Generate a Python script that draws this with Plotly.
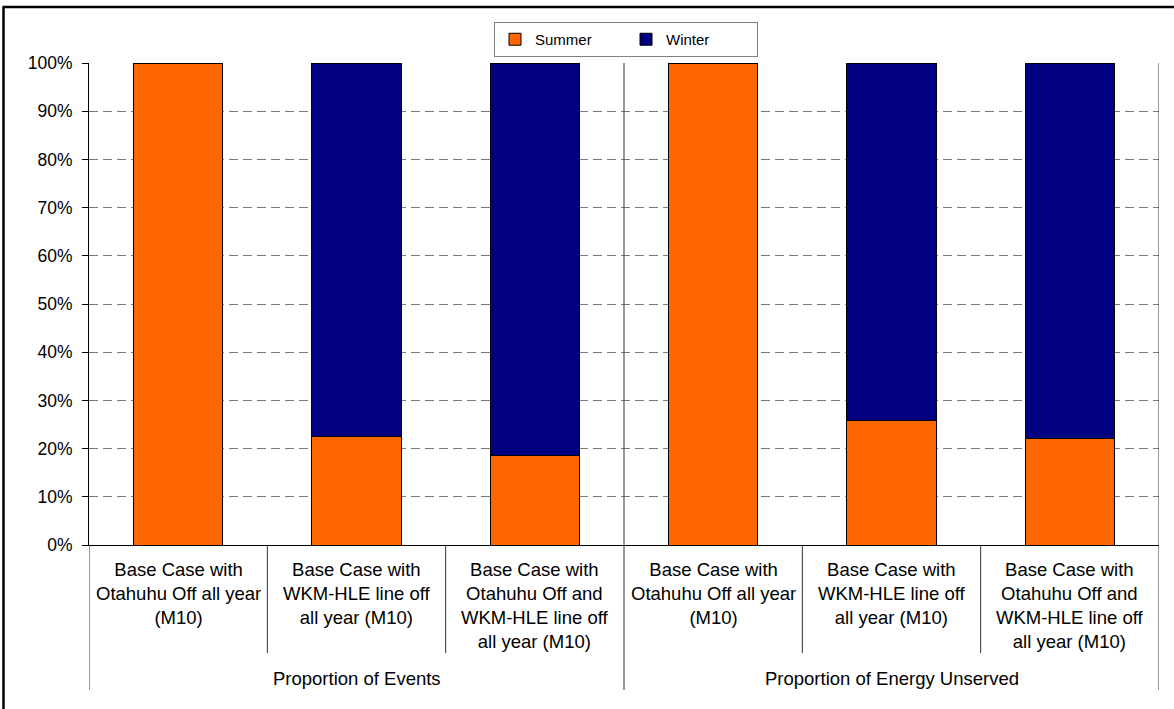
import plotly.graph_objects as go

# Scenario labels (one per bar) and the two groups they belong to
categories = [
    "Base Case with<br>Otahuhu Off all year<br>(M10)",
    "Base Case with<br>WKM-HLE line off<br>all year (M10)",
    "Base Case with<br>Otahuhu Off and<br>WKM-HLE line off<br>all year (M10)",
    "Base Case with<br>Otahuhu Off all year<br>(M10)",
    "Base Case with<br>WKM-HLE line off<br>all year (M10)",
    "Base Case with<br>Otahuhu Off and<br>WKM-HLE line off<br>all year (M10)",
]
groups = ["Proportion of Events", "Proportion of Energy Unserved"]
group_sizes = [3, 3]

# Seasonal shares (fractions of 100%)
summer = [1.00, 0.225, 0.185, 1.00, 0.258, 0.221]
winter = [0.00, 0.775, 0.815, 0.00, 0.742, 0.779]

FONT = "Liberation Sans, Arial, sans-serif"
ORANGE = "#FF6600"
NAVY = "#000080"

x = list(range(len(categories)))

fig = go.Figure()
fig.add_trace(go.Bar(
    x=x, y=summer, name="Summer",
    marker=dict(color=ORANGE, line=dict(color="black", width=1)),
))
fig.add_trace(go.Bar(
    x=x, y=winter, name="Winter",
    marker=dict(color=NAVY, line=dict(color="black", width=1)),
))

W, H = 1174, 709
ML, MR, MT, MB = 89, 15, 63, 164
plot_h = H - MT - MB


def py(px):
    """Convert a pixel row to paper y."""
    return (H - MB - px) / plot_h


def pxx(px):
    """Convert a pixel column to paper x."""
    return (px - ML) / (W - ML - MR)


shapes = []
# group boundaries (category index edges)
bounds = [-0.5]
for s in group_sizes:
    bounds.append(bounds[-1] + s)

# thin separators between categories below the axis
for i in range(1, len(categories)):
    edge = i - 0.5
    if edge in bounds:
        continue
    shapes.append(dict(type="line", xref="x", yref="paper",
                       x0=edge, x1=edge, y0=0, y1=py(653),
                       line=dict(color="#333333", width=1)))
# group separators: run through the plot area and down past the group labels
for b in bounds:
    top = 1 if b != -0.5 else 0
    shapes.append(dict(type="line", xref="x", yref="paper",
                       x0=b, x1=b, y0=py(690), y1=top,
                       line=dict(color="#333333", width=1)))
# chart-area frame (left and top edges)
shapes.append(dict(type="line", xref="paper", yref="paper",
                   x0=pxx(3.5), x1=pxx(3.5), y0=py(7), y1=py(720),
                   line=dict(color="black", width=2.5)))
shapes.append(dict(type="line", xref="paper", yref="paper",
                   x0=pxx(2.5), x1=pxx(1180), y0=py(7), y1=py(7),
                   line=dict(color="black", width=2.5)))

annotations = []
for i, lab in enumerate(categories):
    annotations.append(dict(
        x=i, y=py(557), xref="x", yref="paper", text=lab,
        showarrow=False, xanchor="center", yanchor="top", align="center",
        font=dict(family=FONT, size=18.5, color="black"),
    ))
start = 0
for g, s in zip(groups, group_sizes):
    center = start + (s - 1) / 2
    annotations.append(dict(
        x=center, y=py(678), xref="x", yref="paper", text=g,
        showarrow=False, xanchor="center", yanchor="middle",
        font=dict(family=FONT, size=18.5, color="black"),
    ))
    start += s

fig.update_layout(
    width=W, height=H,
    margin=dict(l=ML, r=MR, t=MT, b=MB),
    paper_bgcolor="white", plot_bgcolor="white",
    barmode="stack", bargap=0.5,
    font=dict(family=FONT, color="black"),
    showlegend=True,
    legend=dict(
        orientation="h", x=pxx(626), xanchor="center",
        y=py(22), yanchor="top",
        bordercolor="#808080", borderwidth=1,
        font=dict(family=FONT, size=15, color="black"),
        itemwidth=30, entrywidth=86, traceorder="normal",
        tracegroupgap=0,
        itemclick=False, itemdoubleclick=False,
    ),
    xaxis=dict(
        range=[-0.5, 5.5], showticklabels=False, ticks="",
        showgrid=False, zeroline=False,
        showline=True, linecolor="black", linewidth=1,
        fixedrange=True,
    ),
    yaxis=dict(
        range=[0, 1], dtick=0.1, tickformat=".0%",
        ticks="outside", ticklen=6, tickcolor="black",
        ticklabelstandoff=6,
        showgrid=True, gridcolor="#7a7a7a", gridwidth=1,
        griddash="9px,5px",
        showline=True, linecolor="black", linewidth=1,
        zeroline=False,
        tickfont=dict(family=FONT, size=17.5, color="black"),
        fixedrange=True,
    ),
    shapes=shapes,
    annotations=annotations,
)

fig.write_html("out.html")
